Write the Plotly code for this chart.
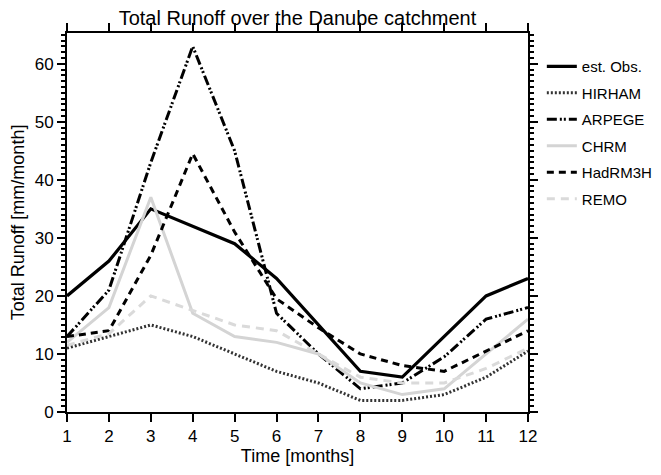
import plotly.graph_objects as go

# Monthly total runoff over the Danube catchment [mm/month]
months = list(range(1, 13))
est_obs = [20, 26, 35, 32, 29, 23, 15, 7, 6, 13, 20, 23]
hirham = [11, 13, 15, 13, 10, 7, 5, 2, 2, 3, 6, 10.5]
arpege = [13, 21, 43, 63, 45, 17, 10, 4, 5, 9.5, 16, 18]
chrm = [12, 18, 37, 17, 13, 12, 10, 5, 3, 4, 10, 16]
hadrm3h = [13, 14, 27, 44.5, 31, 19.5, 14.5, 10, 8, 7, 10.5, 14]
remo = [11.5, 13.5, 20, 17.5, 15, 14, 10, 6, 5, 5, 7.5, 11]

series = [
    ("est. Obs.", est_obs, dict(color="black", width=3.2, dash="solid")),
    ("HIRHAM", hirham, dict(color="#333333", width=3, dash="2px,2px")),
    ("ARPEGE", arpege, dict(color="black", width=3, dash="10px,3px,2px,2px,2px,3px")),
    ("CHRM", chrm, dict(color="#d4d4d4", width=3, dash="solid")),
    ("HadRM3H", hadrm3h, dict(color="black", width=3, dash="7px,5px")),
    ("REMO", remo, dict(color="#dadada", width=3, dash="8px,6px")),
]

fig = go.Figure()
for i, (name, values, line) in enumerate(series):
    fig.add_trace(
        go.Scatter(
            x=months,
            y=values,
            mode="lines",
            name=name,
            line=line,
            legendgroup=str(i),
        )
    )

font = "Liberation Sans, Arial, sans-serif"

# the page adds an 8px body margin, so the margins are shifted to compensate
fig.update_layout(
    width=661,
    height=475,
    margin=dict(l=59, r=141, t=25, b=71, autoexpand=False),
    paper_bgcolor="white",
    plot_bgcolor="white",
    font=dict(family=font, color="black"),
    title=dict(
        text="Total Runoff over the Danube catchment",
        x=(59 + 520) / 2 / 661,
        xanchor="center",
        y=1 - 3 / 475,
        yanchor="top",
        pad=dict(t=0, b=0),
        font=dict(size=20),
    ),
    showlegend=True,
    legend=dict(
        x=1.03,
        y=0.955,
        xanchor="left",
        yanchor="top",
        font=dict(size=15),
        tracegroupgap=4,
        traceorder="grouped",
        bgcolor="rgba(0,0,0,0)",
    ),
)

fig.update_xaxes(
    range=[1, 12],
    tickvals=months,
    ticks="outside",
    ticklen=8,
    tickwidth=2,
    tickcolor="black",
    showline=True,
    linewidth=2,
    linecolor="black",
    mirror="ticks",
    showgrid=False,
    zeroline=False,
    automargin=False,
    tickfont=dict(size=17),
    title=dict(text="Time [months]", font=dict(size=18), standoff=2),
)

fig.update_yaxes(
    range=[0, 65.3],
    tickvals=[0, 10, 20, 30, 40, 50, 60],
    ticks="outside",
    ticklen=8,
    tickwidth=2,
    tickcolor="black",
    minor=dict(dtick=1, tick0=0, ticks="outside", ticklen=4, tickwidth=1.5, tickcolor="black"),
    showline=True,
    linewidth=2,
    linecolor="black",
    mirror="ticks",
    showgrid=False,
    zeroline=False,
    automargin=False,
    tickfont=dict(size=17),
    title=dict(text="Total Runoff [mm/month]", font=dict(size=18), standoff=6),
)

fig.write_html("out.html")
